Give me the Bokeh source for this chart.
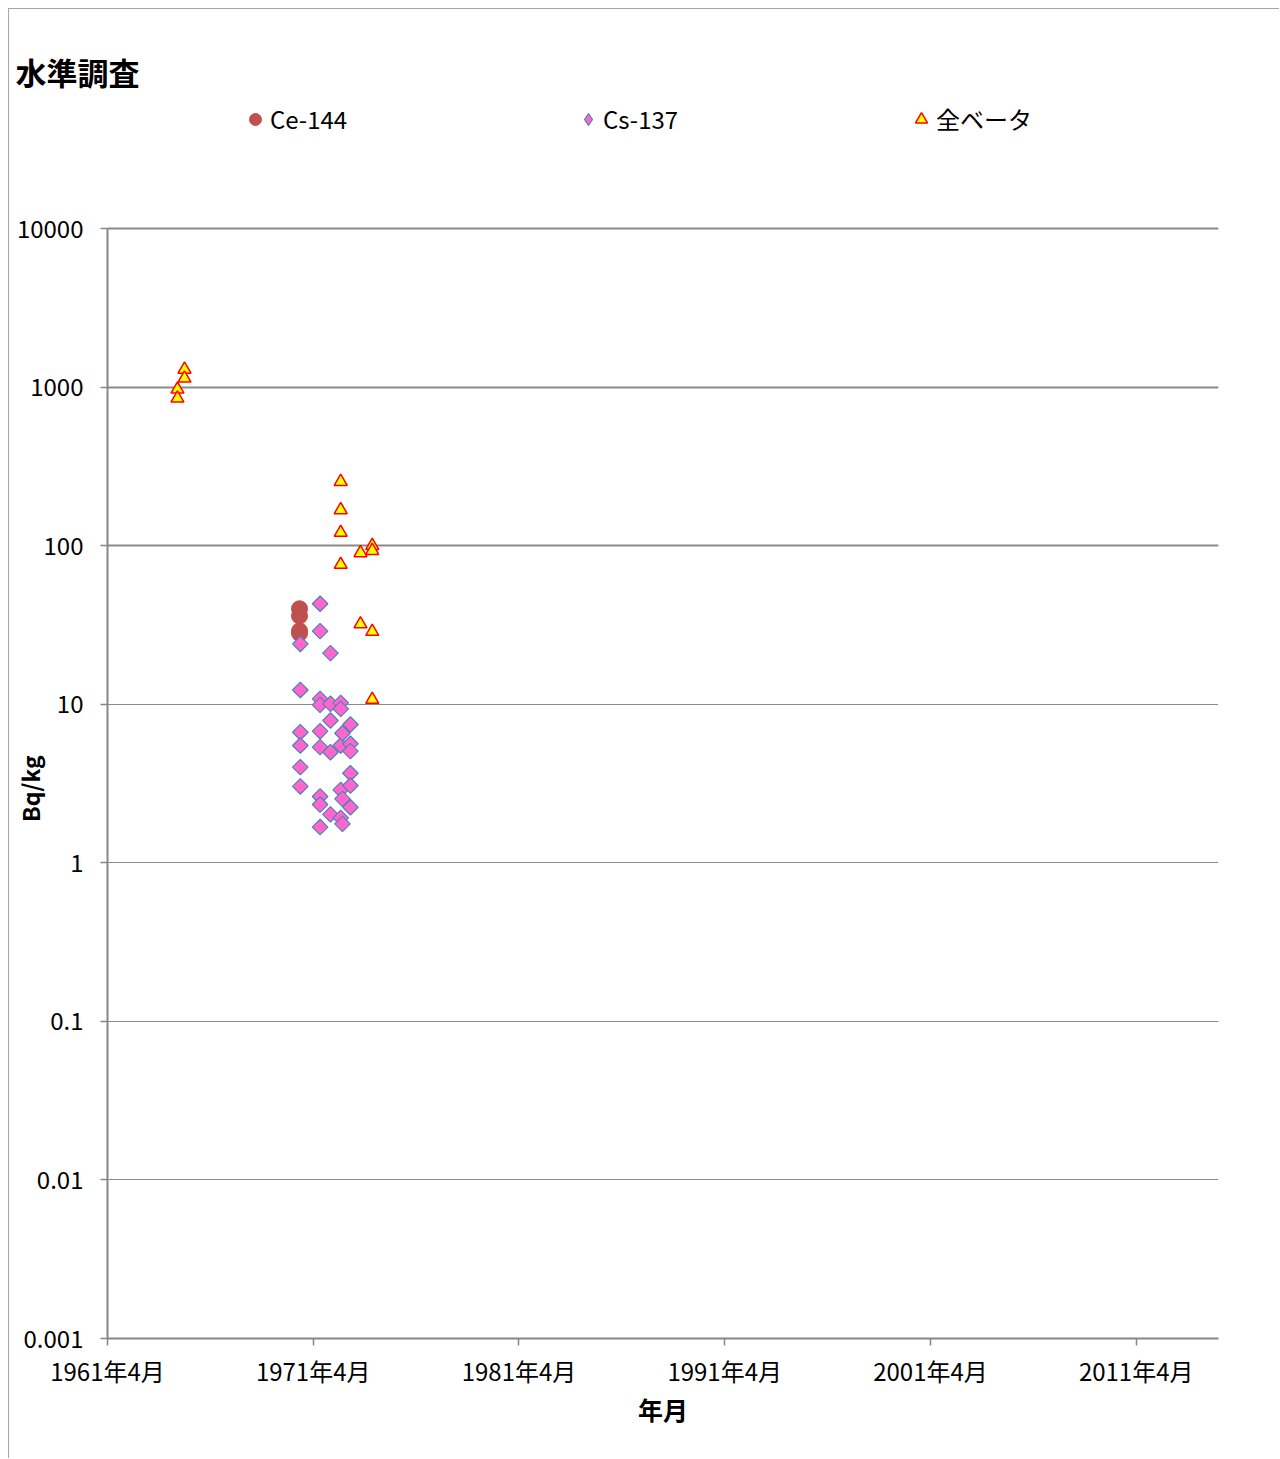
import numpy as np
import pandas as pd
from bokeh.plotting import figure
from bokeh.models import (Range1d, FixedTicker, CustomJSTickFormatter, Legend,
                          LegendItem, Grid, ColumnDataSource, LinearAxis)
from bokeh.embed import file_html
from bokeh.resources import INLINE

# ---------------- data ----------------
title_text = "水準調査"
y_label = "Bq/kg"
x_label = "年月"

ce_dates = ["1970-08-01", "1970-08-01", "1970-08-01", "1970-08-01"]
ce_values = [40, 36, 29, 28]

cs_dates = (["1970-08-15"] * 6 + ["1971-08-01"] * 9 + ["1972-02-01"] * 5 +
            ["1972-08-01"] * 5 + ["1972-09-01"] * 3 + ["1973-01-20"] * 6)
cs_values = [24.0, 12.3, 6.66, 5.49, 4.01, 3.03,
             43.0, 28.9, 10.8, 9.91, 6.76, 5.36, 2.62, 2.33, 1.68,
             21.0, 10.06, 7.89, 4.98, 2.02,
             10.2, 9.35, 5.49, 2.88, 1.92,
             6.56, 2.53, 1.76,
             7.45, 5.63, 5.06, 3.67, 3.07, 2.24]

beta_dates = ["1964-08-25", "1964-08-25", "1964-12-28", "1964-12-28",
              "1972-08-01", "1972-08-01", "1972-08-01", "1972-08-01",
              "1973-07-18", "1973-07-18",
              "1974-02-12", "1974-02-12", "1974-02-12", "1974-02-12"]
beta_values = [968, 850, 1293, 1136,
               253, 168, 121, 76,
               90, 32,
               100, 93, 28.7, 10.7]

series_names = ["Ce-144", "Cs-137", "全ベータ"]
x_tick_dates = ["1961-04-01", "1971-04-01", "1981-04-01", "1991-04-01", "2001-04-01", "2011-04-01"]
x_start, x_end = "1961-04-01", "2015-04-01"
y_ticks = [0.001, 0.01, 0.1, 1, 10, 100, 1000, 10000]
y_heavy_ticks = [100, 1000, 10000]

FONT = "Noto Sans CJK JP"

def to_dt(lst):
    return pd.to_datetime(lst)

def to_ms(s):
    return int(pd.Timestamp(s).value // 10**6)

ce_src = ColumnDataSource(dict(x=to_dt(ce_dates), y=ce_values))
cs_src = ColumnDataSource(dict(x=to_dt(cs_dates), y=cs_values))
beta_src = ColumnDataSource(dict(x=to_dt(beta_dates), y=beta_values))

# layout geometry: canvas origin sits at page (9, 9) (8px margin + 1px border)
W, H = 1271, 1450
frame_left, frame_right = 98, 1209
frame_top, axis_top, frame_bottom = 86, 219, 1329
decades = np.log10(y_ticks[-1]) - np.log10(y_ticks[0])
px_per_decade = (frame_bottom - axis_top) / decades
y_top = 10 ** (np.log10(y_ticks[-1]) + (axis_top - frame_top) / px_per_decade)

p = figure(width=W, height=H, x_axis_type="datetime", y_axis_type="log",
           x_range=Range1d(pd.Timestamp(x_start), pd.Timestamp(x_end)),
           y_range=Range1d(y_ticks[0], y_top),
           output_backend="svg", toolbar_location=None,
           min_border_left=frame_left, min_border_top=frame_top,
           min_border_right=W - frame_right, min_border_bottom=H - frame_bottom)
p.margin = (8, 0, 0, 8)
p.styles = {"border-left": "1px solid #a6a6a6", "border-top": "1px solid #a6a6a6"}
p.outline_line_color = None
p.background_fill_color = "white"
p.border_fill_color = "white"

xax = p.below[0]
yax = p.left[0]

# title
p.title.text = title_text
p.title.align = "left"
p.title.vertical_align = "top"
p.title.standoff = 0
p.title.offset = -92
p.title.text_font = FONT
p.title.text_font_size = "31px"
p.title.text_font_style = "bold"
p.title.text_color = "black"

# grids
p.xgrid.visible = False
p.ygrid.ticker = FixedTicker(ticks=y_ticks)
p.ygrid.grid_line_color = "#8a8a8a"
p.ygrid.grid_line_width = 1
p.add_layout(Grid(dimension=1, ticker=FixedTicker(ticks=y_heavy_ticks),
                  grid_line_color="#8a8a8a", grid_line_width=2))

# axes
for ax in (xax, yax):
    ax.axis_line_color = "#868686"
    ax.axis_line_width = 2
    ax.major_tick_line_color = "#868686"
    ax.major_tick_line_width = 1.5
    ax.major_tick_out = 7
    ax.major_tick_in = 0
    ax.minor_tick_out = 0
    ax.minor_tick_in = 0
    ax.major_label_text_font = FONT
    ax.major_label_text_font_size = "24px"
    ax.major_label_text_color = "black"
    ax.axis_label_text_font = FONT
    ax.axis_label_text_font_style = "bold"
    ax.axis_label_text_color = "black"

yax.ticker = FixedTicker(ticks=y_ticks)
yax.bounds = (y_ticks[0], y_ticks[-1])
yax.formatter = CustomJSTickFormatter(code="return tick.toString();")
yax.major_label_standoff = 17
# trailing ideographic spaces shift the centred label down to the middle of the value axis
yax.axis_label = y_label + "\u3000" * 6 + "\u00a0"
yax.axis_label_text_font_size = "23px"
yax.axis_label_standoff = -33

xax.ticker = FixedTicker(ticks=[to_ms(d) for d in x_tick_dates])
xax.formatter = CustomJSTickFormatter(code="""
const d = new Date(tick);
return d.getUTCFullYear() + "年" + (d.getUTCMonth() + 1) + "月";
""")
xax.major_label_standoff = 7
xax.axis_label = x_label
xax.axis_label_text_font_size = "25px"
xax.axis_label_standoff = 0

# empty spacer axis between the frame and the title (no ticks, no labels, no line)
spacer = LinearAxis(ticker=FixedTicker(ticks=[]), axis_line_color=None,
                    major_tick_out=39, major_tick_in=0, minor_tick_out=0, minor_tick_in=0,
                    major_tick_line_color=None, minor_tick_line_color=None,
                    major_label_standoff=0, axis_label_standoff=0)
p.add_layout(spacer, "above")

# glyphs
r_ce = p.scatter("x", "y", source=ce_src, marker="circle", size=16,
                 fill_color="#C0504D", line_color="#C0504D", line_width=1)
r_cs = p.scatter("x", "y", source=cs_src, marker="square", angle=np.pi / 4, size=11,
                 fill_color="#FF66CC", line_color="#4F81BD", line_width=1.2)
r_beta = p.scatter("x", "y", source=beta_src, marker="triangle", size=13,
                   fill_color="#FFFF00", line_color="#FF0000", line_width=1.5)
# legend swatch for Cs-137 (diamond shape, holds no visible point)
r_cs_leg = p.scatter(x=[np.nan], y=[np.nan], marker="diamond", size=11,
                     fill_color="#FF66CC", line_color="#4F81BD", line_width=1.2)

legend = Legend(items=[LegendItem(label=series_names[0], renderers=[r_ce]),
                       LegendItem(label=series_names[1], renderers=[r_cs_leg]),
                       LegendItem(label=series_names[2], renderers=[r_beta])],
                orientation="horizontal", location=(133, 1202),
                glyph_width=30, glyph_height=34, label_standoff=0, label_width=303,
                label_height=34, spacing=0, padding=0, margin=0,
                border_line_color=None, background_fill_alpha=0,
                label_text_font=FONT, label_text_font_size="24px", label_text_color="black")
p.add_layout(legend)

open("out.html", "w").write(file_html(p, INLINE))
